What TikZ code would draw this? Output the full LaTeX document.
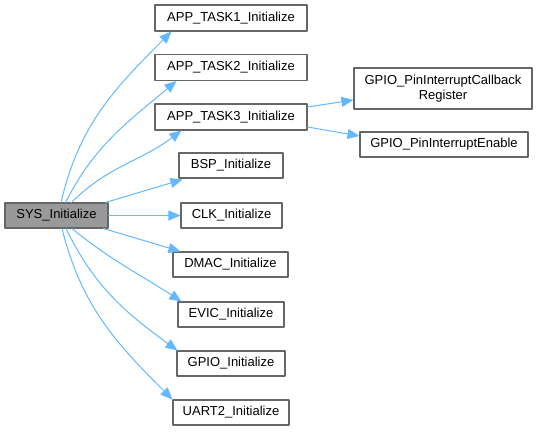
\documentclass[tikz,border=0pt]{standalone}
\usepackage{fontspec}
\setmainfont{Liberation Sans}
\usetikzlibrary{arrows.meta,positioning}
\definecolor{edgeblue}{HTML}{63B8FF}
\definecolor{boxgray}{HTML}{666666}
\definecolor{fillgray}{HTML}{999999}

\begin{document}
\begin{tikzpicture}[x=1pt,y=1pt,line cap=round,line join=round,
  fn/.style={draw=boxgray,line width=1.1pt,fill=white,minimum height=25pt,inner sep=0pt,font=\fontsize{13}{15}\selectfont},
  call/.style={draw=edgeblue,line width=1pt,-{Triangle[length=12pt,width=10pt,fill=edgeblue]}}]
\path[use as bounding box] (0,0) rectangle (537,-431);
% caller
\node[fn,fill=fillgray,minimum width=103pt] (sys) at (56.5,-215.5) {SYS\_Initialize};
% callees
\node[fn,minimum width=152pt,minimum height=26pt] (task1) at (231,-18) {APP\_TASK1\_Initialize};
\node[fn,minimum width=152pt,minimum height=26pt] (task2) at (231,-67.5) {APP\_TASK2\_Initialize};
\node[fn,minimum width=152pt,minimum height=26pt] (task3) at (231,-117) {APP\_TASK3\_Initialize};
\node[fn,minimum width=104pt] (bsp) at (231,-165.5) {BSP\_Initialize};
\node[fn,minimum width=101pt] (clk) at (231.5,-215.5) {CLK\_Initialize};
\node[fn,minimum width=115pt] (dmac) at (230.5,-264.5) {DMAC\_Initialize};
\node[fn,minimum width=106pt] (evic) at (231,-314.5) {EVIC\_Initialize};
\node[fn,minimum width=108pt] (gpio) at (231,-363.5) {GPIO\_Initialize};
\node[fn,minimum width=116pt] (uart) at (231,-412.5) {UART2\_Initialize};
\node[fn,minimum width=178pt,minimum height=41pt,align=center] (cbreg) at (443,-88.5) {GPIO\_PinInterruptCallback\\Register};
\node[fn,minimum width=168pt] (pinen) at (444,-144.5) {GPIO\_PinInterruptEnable};
% calls
\draw[call] ([xshift=4.5pt]sys.north) to[out=77,in=225] ([xshift=17pt]task1.south west);
\draw[call] ([xshift=9pt]sys.north) to[out=63,in=220] ([xshift=22pt]task2.south west);
\draw[call] ([xshift=15pt]sys.north) to[out=45,in=217] ([xshift=27pt]task3.south west);
\draw[call] ([xshift=-3pt]sys.north east) -- ([xshift=4pt,yshift=-1pt]bsp.south west);
\draw[call] (sys.east) -- (clk.west);
\draw[call] ([xshift=-5pt]sys.south east) -- ([xshift=8pt]dmac.north west);
\draw[call] ([xshift=15.5pt]sys.south) to[out=-39,in=147] ([xshift=4pt]evic.north west);
\draw[call] ([xshift=9.5pt]sys.south) to[out=-64,in=144] ([xshift=1pt]gpio.north west);
\draw[call] ([xshift=5.5pt]sys.south) to[out=-76,in=135] (uart.north west);
\draw[call] ([yshift=10pt]task3.east) -- ([yshift=-11.5pt]cbreg.west);
\draw[call] ([yshift=-10pt]task3.east) -- ([yshift=8.5pt]pinen.west);
\end{tikzpicture}
\end{document}
